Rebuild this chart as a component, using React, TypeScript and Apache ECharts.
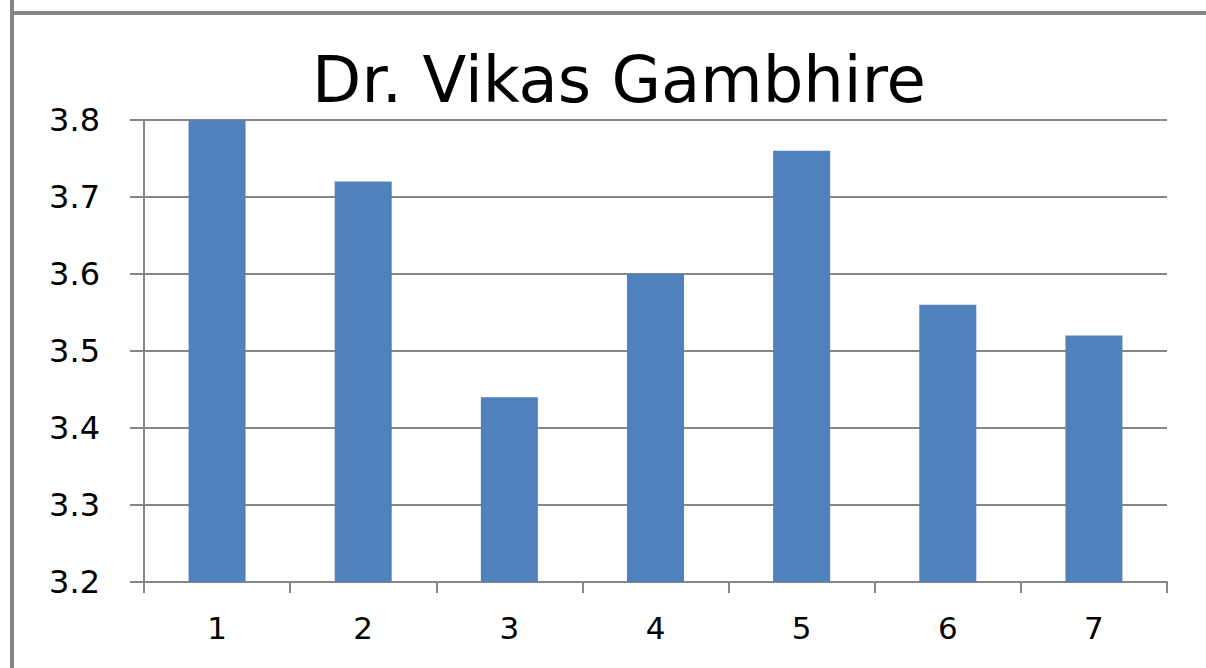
import React, { useEffect, useRef } from "react";
import * as echarts from "echarts";

const categories = ["1", "2", "3", "4", "5", "6", "7"];
const values = [3.8, 3.72, 3.44, 3.6, 3.76, 3.56, 3.52];
const titleText = "Dr. Vikas Gambhire";

export default function App() {
  const ref = useRef<HTMLDivElement>(null);
  useEffect(() => {
    const chart = echarts.init(ref.current!, null, { renderer: "svg" });
    chart.setOption({
      animation: false,
      backgroundColor: "#ffffff",
      title: {
        text: titleText,
        left: 614,
        textAlign: "center",
        top: 43,
        textStyle: {
          fontFamily: "DejaVu Sans",
          fontSize: 64,
          fontWeight: "normal",
          color: "#000000",
        },
      },
      graphic: [
        {
          type: "line",
          shape: { x1: 12, y1: 0, x2: 12, y2: 668 },
          style: { stroke: "#858585", lineWidth: 4 },
        },
        {
          type: "line",
          shape: { x1: 10, y1: 13, x2: 1206, y2: 13 },
          style: { stroke: "#858585", lineWidth: 4 },
        },
      ],
      grid: { left: 144, right: 39, top: 120, bottom: 86 },
      xAxis: {
        type: "category",
        data: categories,
        boundaryGap: true,
        axisLine: { show: true, lineStyle: { color: "#868686", width: 2 } },
        axisTick: { show: true, length: 11, alignWithLabel: false, lineStyle: { color: "#868686", width: 2 } },
        axisLabel: { margin: 30, fontFamily: "DejaVu Sans", fontSize: 31, color: "#000000" },
      },
      yAxis: {
        type: "value",
        min: 3.2,
        max: 3.8,
        interval: 0.1,
        axisLine: { show: true, lineStyle: { color: "#868686", width: 2 } },
        axisTick: { show: true, length: 14, lineStyle: { color: "#868686", width: 2 } },
        splitLine: { show: true, lineStyle: { color: "#868686", width: 2 } },
        axisLabel: {
          margin: 44,
          fontFamily: "DejaVu Sans",
          fontSize: 32,
          color: "#000000",
          formatter: (v: number) => v.toFixed(1),
        },
      },
      series: [
        {
          type: "bar",
          data: values,
          barWidth: 57,
          itemStyle: { color: "#4F81BD" },
        },
      ],
    });
    return () => chart.dispose();
  }, []);
  return (
    <div
      ref={ref}
      style={{ position: "fixed", left: 0, top: 0, width: 1206, height: 668 }}
    />
  );
}
